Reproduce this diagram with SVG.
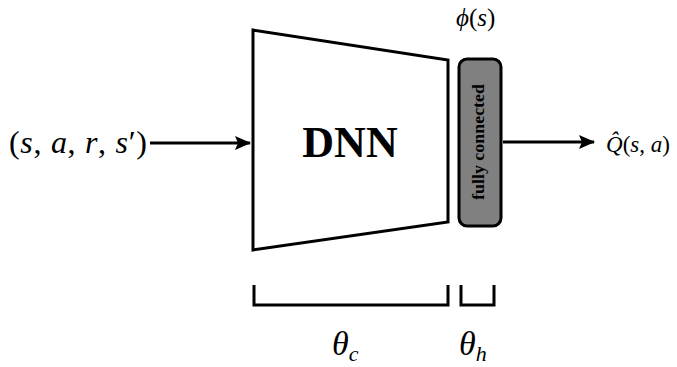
<svg xmlns="http://www.w3.org/2000/svg" width="677" height="367" viewBox="0 0 677 367">
<defs>
<style>
text{font-family:'Liberation Serif',serif}
.m{font-style:italic;fill:#000}
.r{font-style:normal}
.ln{stroke:#000;stroke-width:3;fill:none}
</style>
<marker id="ah" markerWidth="16" markerHeight="14" refX="15" refY="7" orient="auto" markerUnits="userSpaceOnUse" viewBox="0 0 16 14">
<path d="M0,0 L16,7 L0,14 L3,7 z" fill="#000"/>
</marker>
</defs>
<rect width="677" height="367" fill="#fff"/>
<g id="input">
<text class="m" x="9" y="153" font-size="32" textLength="138" lengthAdjust="spacing"><tspan class="r">(</tspan>s<tspan class="r">, </tspan>a<tspan class="r">, </tspan>r<tspan class="r">, </tspan>s<tspan class="r">′)</tspan></text>
</g>
<g id="dnn">
<polygon points="253,30 448,60 448,222 253,250" stroke="#000" stroke-width="3" fill="#fff" stroke-linejoin="miter"/>
<text x="350" y="157" font-weight="bold" font-size="44" text-anchor="middle">DNN</text>
</g>
<g id="fc">
<rect x="459" y="59" width="42" height="167" rx="8" ry="8" fill="#808080" stroke="#000" stroke-width="3"/>
<text transform="translate(484,142) rotate(-90)" font-weight="bold" font-size="16" text-anchor="middle" textLength="116" lengthAdjust="spacingAndGlyphs">fully connected</text>
<text class="m" x="456" y="26" font-size="25">ϕ<tspan class="r">(</tspan>s<tspan class="r">)</tspan></text>
</g>
<g id="output">
<text class="m" x="606" y="152" font-size="23">Q̂<tspan class="r">(</tspan>s<tspan class="r">, </tspan>a<tspan class="r">)</tspan></text>
</g>
<g id="connectors">
<line class="ln" x1="150" y1="143" x2="250" y2="143" marker-end="url(#ah)"/>
<line class="ln" x1="503" y1="142" x2="594" y2="142" marker-end="url(#ah)"/>
</g>
<g id="brackets">
<polyline class="ln" points="254,285 254,305 448,305 448,285"/>
<polyline class="ln" points="461,285 461,305 494,305 494,285"/>
<text class="m" x="332" y="355" font-size="34">θ<tspan font-size="22" dy="6">c</tspan></text>
<text class="m" x="459" y="355" font-size="34">θ<tspan font-size="22" dy="6">h</tspan></text>
</g>
</svg>
